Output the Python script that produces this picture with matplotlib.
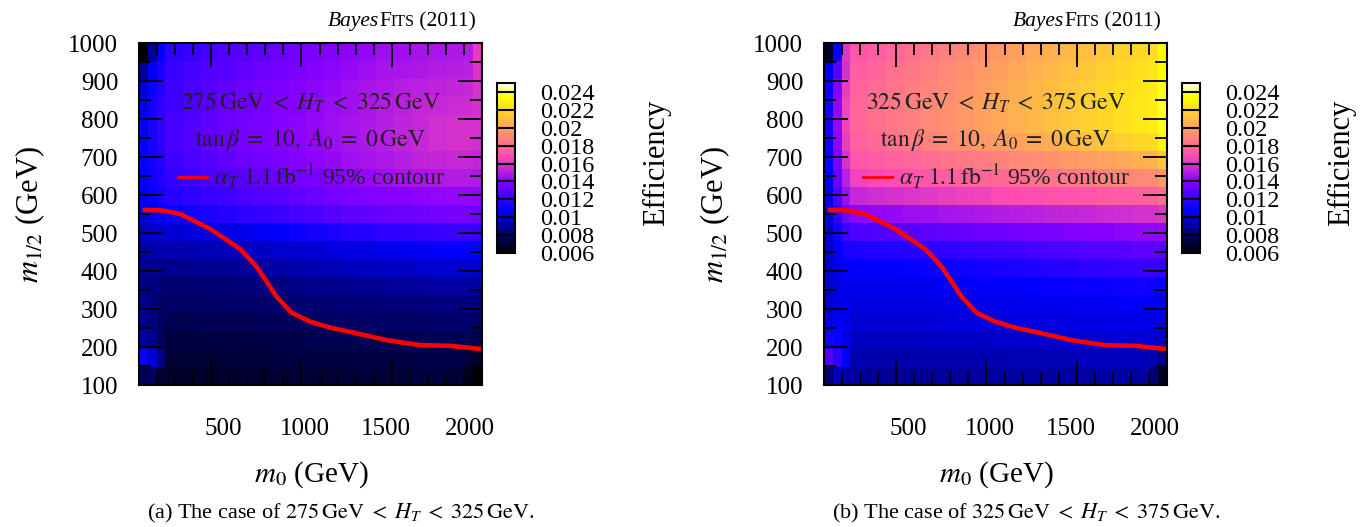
import numpy as np
import matplotlib
matplotlib.use('Agg')
import matplotlib.pyplot as plt
import matplotlib.transforms as mtransforms
from matplotlib.colors import ListedColormap
from matplotlib.ticker import MultipleLocator
from matplotlib.offsetbox import TextArea, HPacker, AnchoredOffsetbox

plt.rcParams['font.family'] = ['Liberation Serif', 'DejaVu Serif']
plt.rcParams['mathtext.fontset'] = 'stix'

# efficiency (x 1e-4), rows m_1/2 = 1000 -> 100 in steps of 50
# columns m0 = 100, 150, 200, then pairs 250/300 ... 1850/1900, then 1950, 2000
eff_a = [
    [60, 88, 108, 118, 121, 124, 127, 129, 131, 133, 135, 137, 139, 141, 143, 145, 146, 147, 148, 149, 150, 162],
    [88, 105, 113, 121, 124, 127, 129, 131, 133, 135, 137, 139, 141, 143, 145, 147, 148, 149, 150, 151, 152, 160],
    [100, 110, 116, 122, 125, 128, 131, 133, 135, 137, 139, 141, 143, 145, 147, 149, 151, 152, 153, 154, 155, 159],
    [106, 112, 118, 123, 126, 129, 132, 134, 136, 138, 140, 142, 144, 146, 148, 150, 152, 154, 155, 156, 156, 158],
    [108, 113, 119, 124, 127, 130, 133, 135, 137, 139, 141, 143, 145, 147, 149, 151, 153, 155, 157, 158, 158, 158],
    [108, 113, 119, 124, 127, 130, 133, 135, 137, 139, 141, 143, 145, 147, 149, 151, 153, 155, 157, 158, 158, 157],
    [108, 112, 117, 122, 125, 128, 131, 133, 135, 137, 139, 141, 143, 145, 147, 149, 151, 153, 154, 155, 155, 154],
    [107, 111, 115, 120, 122, 125, 127, 129, 131, 133, 135, 137, 139, 141, 143, 145, 147, 148, 149, 150, 150, 149],
    [105, 109, 113, 117, 119, 121, 123, 125, 127, 129, 131, 133, 135, 137, 138, 139, 140, 141, 142, 143, 143, 142],
    [101, 104, 107, 110, 112, 114, 116, 118, 120, 122, 124, 126, 128, 130, 131, 132, 133, 134, 135, 136, 136, 135],
    [96, 98, 99, 100, 101, 102, 103, 104, 106, 108, 110, 112, 114, 116, 117, 118, 119, 120, 121, 122, 122, 121],
    [91, 92, 92, 93, 93, 94, 95, 96, 97, 98, 99, 100, 101, 102, 103, 104, 105, 106, 107, 108, 108, 107],
    [87, 87, 86, 86, 86, 87, 88, 89, 90, 91, 92, 93, 94, 95, 96, 96, 97, 98, 99, 99, 99, 98],
    [85, 84, 82, 81, 81, 82, 82, 83, 84, 84, 85, 86, 86, 87, 88, 88, 89, 89, 90, 90, 90, 89],
    [86, 83, 80, 79, 79, 79, 80, 80, 80, 81, 81, 81, 82, 82, 82, 83, 83, 83, 84, 84, 84, 83],
    [88, 84, 78, 75, 75, 76, 76, 76, 77, 77, 77, 78, 78, 78, 79, 79, 79, 79, 80, 80, 80, 78],
    [90, 86, 78, 72, 72, 73, 73, 73, 74, 74, 74, 75, 75, 75, 76, 76, 76, 76, 77, 77, 76, 74],
    [110, 100, 84, 70, 70, 70, 71, 71, 71, 72, 72, 72, 72, 73, 73, 73, 73, 74, 74, 74, 72, 68],
    [76, 78, 70, 68, 68, 68, 69, 69, 69, 70, 70, 70, 70, 71, 71, 71, 71, 72, 72, 71, 66, 61],
]
eff_b = [
    [68, 110, 160, 172, 175, 178, 181, 184, 187, 190, 193, 196, 199, 202, 205, 208, 211, 214, 217, 220, 222, 232],
    [105, 128, 158, 175, 178, 181, 184, 187, 190, 193, 196, 199, 202, 205, 208, 211, 214, 217, 220, 223, 225, 234],
    [110, 138, 162, 177, 180, 183, 186, 189, 192, 195, 198, 201, 204, 207, 210, 213, 216, 219, 222, 225, 227, 236],
    [112, 142, 165, 178, 181, 184, 187, 190, 193, 196, 199, 202, 205, 208, 211, 214, 217, 220, 223, 226, 228, 237],
    [113, 143, 165, 178, 181, 184, 187, 190, 193, 196, 199, 202, 205, 208, 211, 214, 217, 220, 223, 226, 228, 236],
    [112, 141, 163, 176, 179, 182, 185, 188, 191, 194, 196, 198, 200, 202, 204, 207, 210, 213, 216, 219, 221, 230],
    [110, 137, 158, 172, 174, 176, 178, 180, 182, 184, 186, 188, 190, 192, 194, 196, 198, 200, 202, 204, 206, 214],
    [108, 132, 152, 165, 167, 169, 171, 172, 174, 176, 177, 179, 180, 182, 183, 185, 186, 188, 189, 190, 191, 196],
    [105, 126, 145, 155, 157, 158, 160, 161, 163, 164, 165, 167, 168, 169, 170, 171, 172, 173, 174, 175, 176, 180],
    [102, 119, 135, 141, 142, 143, 145, 146, 147, 148, 149, 150, 151, 152, 153, 154, 155, 156, 157, 158, 158, 160],
    [100, 112, 122, 126, 127, 128, 129, 130, 131, 132, 133, 134, 135, 136, 137, 138, 139, 140, 141, 142, 142, 143],
    [98, 107, 113, 114, 115, 116, 117, 118, 119, 120, 121, 122, 123, 124, 125, 126, 127, 128, 129, 130, 130, 129],
    [97, 104, 108, 107, 108, 108, 109, 110, 110, 111, 112, 113, 114, 115, 116, 117, 118, 119, 120, 121, 121, 120],
    [97, 103, 105, 104, 104, 104, 105, 105, 106, 106, 107, 107, 108, 108, 109, 109, 110, 110, 111, 112, 111, 110],
    [98, 103, 104, 102, 102, 102, 102, 103, 103, 103, 104, 104, 104, 105, 105, 105, 106, 106, 107, 107, 106, 105],
    [102, 106, 104, 100, 100, 100, 100, 100, 101, 101, 101, 101, 102, 102, 102, 102, 103, 103, 103, 104, 103, 101],
    [112, 110, 103, 97, 96, 96, 96, 97, 97, 97, 97, 98, 98, 98, 98, 99, 99, 99, 100, 100, 99, 96],
    [128, 118, 106, 93, 92, 92, 92, 92, 93, 93, 93, 93, 94, 94, 94, 94, 95, 95, 95, 95, 92, 86],
    [82, 95, 92, 89, 88, 88, 88, 88, 89, 89, 89, 89, 90, 90, 90, 90, 90, 91, 91, 90, 82, 66],
]

# alpha_T 1.1 fb^-1 95% contour
contour_m0 = [133, 235, 327, 493, 660, 752, 863, 946, 1047, 1158, 1306, 1472, 1657, 1823, 1989]
contour_m12 = [561, 559, 550, 511, 458, 411, 332, 290, 267, 251, 236, 218, 205, 203, 195]

ht_bins = [(275, 325), (325, 375)]
panel_tags = ['(a)', '(b)']
x_ticks = [500, 1000, 1500, 2000]
cbar_ticks = [0.006, 0.008, 0.010, 0.012, 0.014, 0.016, 0.018, 0.020, 0.022, 0.024]
cbar_labels = ['0.006', '0.008', '0.01', '0.012', '0.014', '0.016', '0.018', '0.02', '0.022', '0.024']

# gnuplot rgbformulae 30,31,32 palette
x = np.linspace(0, 1, 256)
r = np.clip(x / 0.32 - 0.78125, 0, 1)
g = np.clip(2 * x - 0.84, 0, 1)
b = np.where(x < 0.25, 4 * x, np.where(x < 0.42, 1.0, np.where(x < 0.92, -2 * x + 1.84, x / 0.08 - 11.5)))
b = np.clip(b, 0, 1)
cmap = ListedColormap(np.c_[r, g, b])

# grid edges (39 x 19 grid points, interior columns merged in pairs)
full_x = np.linspace(100, 2000, 40)
x_edges = full_x[list(range(0, 4)) + list(range(5, 38, 2)) + [38, 39]]
y_edges = np.linspace(1000, 100, 20)

W, H = 1368, 527
fig = plt.figure(figsize=(W / 100, H / 100), dpi=100)
text_col = '#222222'
# the original tick labels are spread a little narrower than the ticks
label_shift_px = [12, 3, -6, -12]

for i, (eff, (lo, hi), tag) in enumerate(zip([eff_a, eff_b], ht_bins, panel_tags)):
    dx = i * 685
    ax = fig.add_axes([(139 + dx) / W, 1 - 385 / H, 343 / W, 342 / H])
    mesh = ax.pcolormesh(x_edges, y_edges, np.array(eff) / 1e4, cmap=cmap,
                         vmin=0.006, vmax=0.025, shading='flat')
    line, = ax.plot(contour_m0, contour_m12, color='red', lw=3.3)
    ax.set_xlim(100, 2000)
    ax.set_ylim(100, 1000)
    ax.set_xticks(x_ticks)
    ax.xaxis.set_minor_locator(MultipleLocator(100))
    ax.yaxis.set_major_locator(MultipleLocator(100))
    ax.yaxis.set_minor_locator(MultipleLocator(50))
    ax.tick_params(which='both', direction='in', top=True, right=True, width=1.3, color='black')
    ax.tick_params(which='major', length=17)
    ax.tick_params(which='minor', length=8.5)
    ax.tick_params(axis='x', which='major', pad=24, labelsize=18)
    ax.tick_params(axis='y', which='major', pad=15, labelsize=18)
    for lab, sh in zip(ax.get_xticklabels(), label_shift_px):
        off = mtransforms.ScaledTranslation(sh / 100, 0, fig.dpi_scale_trans)
        lab.set_transform(lab.get_transform() + off)
    for s in ax.spines.values():
        s.set_linewidth(1.5)

    ax.text(0.5, 0.8245, rf'${lo}\,\mathrm{{GeV}}\;<\;H_T\;<\;{hi}\,\mathrm{{GeV}}$',
            transform=ax.transAxes, ha='center', va='center', fontsize=17, color=text_col)
    ax.text(0.5, 0.716, r'$\tan\beta\;=\;10,\; A_0\;=\;0\,\mathrm{GeV}$',
            transform=ax.transAxes, ha='center', va='center', fontsize=17, color=text_col)
    leg = ax.legend([line], [r'$\alpha_T\ 1.1\,\mathrm{fb}^{-1}$ 95% contour'],
                    loc='center left', bbox_to_anchor=(0.115, 0.608), frameon=False,
                    fontsize=17, handlelength=1.2, handletextpad=0.3,
                    borderpad=0, borderaxespad=0, labelcolor=text_col)
    leg.get_lines()[0].set_linewidth(2)

    box = HPacker(children=[TextArea('Bayes', textprops=dict(fontsize=15.5, fontstyle='italic')),
                            TextArea('F', textprops=dict(fontsize=15.5)),
                            TextArea('ITS', textprops=dict(fontsize=11.5)),
                            TextArea('\u2009(2011)', textprops=dict(fontsize=15.5))],
                  align='baseline', pad=0, sep=0)
    ax.add_artist(AnchoredOffsetbox(loc='lower right', child=box, pad=0, borderpad=0,
                                    frameon=False, bbox_to_anchor=(0.982, 1.035),
                                    bbox_transform=ax.transAxes))

    cax = fig.add_axes([(497 + dx) / W, 1 - 253 / H, 18 / W, 170 / H])
    cb = fig.colorbar(mesh, cax=cax)
    cb.set_ticks(cbar_ticks)
    cb.set_ticklabels(cbar_labels)
    cb.ax.tick_params(length=0, pad=18, labelsize=17.5)
    cb.outline.set_linewidth(1.5)
    for t in cbar_ticks[1:]:
        cax.axhline(t, color='black', lw=1.5)

    fig.text((657 + dx) / W, 1 - 163 / H, 'Efficiency', rotation=90,
             ha='center', va='center', fontsize=22)
    fig.text((30 + dx) / W, 1 - 215 / H, r'$m_{1/2}$ (GeV)', rotation=90,
             ha='center', va='center', fontsize=22)
    fig.text((311 + dx) / W, 1 - 475 / H, r'$m_0$ (GeV)',
             ha='center', va='center', fontsize=21)
    fig.text((341 + dx) / W, 1 - 513 / H,
             rf'{tag} The case of ${lo}\,\mathrm{{GeV}}\;<\;H_T\;<\;{hi}\,\mathrm{{GeV}}$.',
             ha='center', va='center', fontsize=16)

fig.savefig('out.png', dpi=100)
